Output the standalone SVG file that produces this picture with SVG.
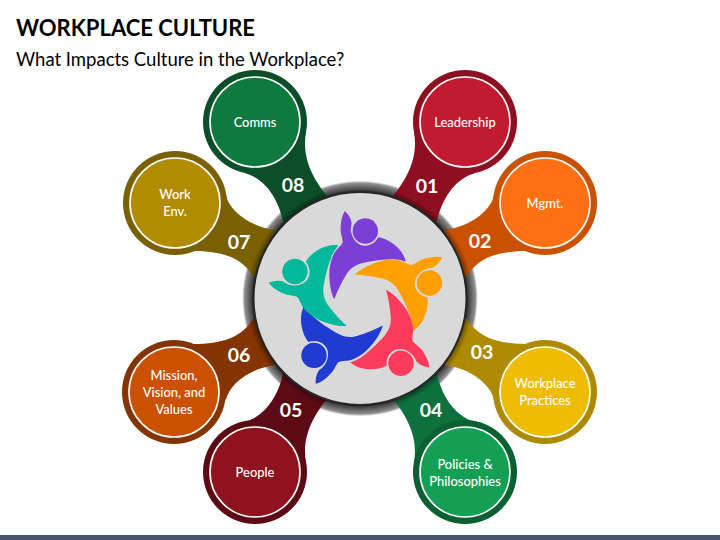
<svg xmlns="http://www.w3.org/2000/svg" width="720" height="540" viewBox="0 0 720 540">
<style>
text{font-family:"Lato","Carlito","Liberation Sans",sans-serif;text-anchor:middle}
.title{font-size:23.5px;font-weight:700;fill:#000;text-anchor:start}
.sub{font-size:18.5px;fill:#000;text-anchor:start}
.lbl{font-size:12.9px;fill:#fff;font-weight:500}
.num{font-size:19.5px;fill:#fff;font-weight:700}
.in{stroke:#fff;stroke-width:1.6}
</style>
<defs>
<radialGradient id="ring" gradientUnits="userSpaceOnUse" cx="360" cy="298.5" r="118">
<stop offset="0.9" stop-color="#333"/>
<stop offset="0.925" stop-color="#666"/>
<stop offset="0.96" stop-color="#777"/>
<stop offset="0.98" stop-color="#929292"/>
<stop offset="1" stop-color="#ccc" stop-opacity="0.1"/>
</radialGradient>
<radialGradient id="shade" gradientUnits="userSpaceOnUse" cx="360" cy="298.5" r="118">
<stop offset="0.9" stop-color="#000" stop-opacity="0.45"/>
<stop offset="0.96" stop-color="#000" stop-opacity="0"/>
</radialGradient>
<path id="neckA" d="M414,132C417,150 414,170 393,196L360,298L437,221C441,203 452,180 475,173Z"/>
<path id="neckB" d="M494,195C491,210 472,226 445,230L360,298L467,276C478,258 497,251 527,251Z"/>
<g id="person">
<path d="M345,211C348,214 351,218 351.7,223.3C350.5,228 350.5,231 351.7,234C353,239.5 358,245.7 365,245.7C370.5,245.7 375.5,242.5 378.3,237.3C386,238.5 393,243 398,248C402,252 405,257 405.7,261.7C400,259.5 396,259 391.7,259.3C385,259.5 379,260 373.3,261C366,262 361,263 356.7,265C352,267.5 349,270 346,275C342,282 337,291 334.3,299.3C331,294 329.5,283 329.3,276C329,268 331,258 335,251.7C338,248 342,245 342.7,241.7C342,236 340,232 340.7,226.7C341,221 342,215 345,211Z"/>
<circle cx="365.3" cy="231" r="12.7"/>
</g>
</defs>
<rect width="720" height="540" fill="#fff"/>
<text class="title" x="16" y="36" textLength="239" lengthAdjust="spacingAndGlyphs">WORKPLACE CULTURE</text>
<text class="sub" x="16" y="66">What Impacts Culture in the Workplace?</text>
<circle id="halo" cx="360" cy="298.5" r="118" fill="url(#ring)"/>
<g id="connectors">
<use href="#neckA" fill="#8e0f20"/>
<use href="#neckB" fill="#c85200"/>
<use href="#neckB" fill="#ae8a00" transform="matrix(1,0,0,-1,0,595)"/>
<use href="#neckA" fill="#0e703c" transform="matrix(1,0,0,-1,0,595)"/>
<use href="#neckA" fill="#5c0a14" transform="matrix(-1,0,0,-1,720,595)"/>
<use href="#neckB" fill="#843400" transform="matrix(-1,0,0,-1,720,595)"/>
<use href="#neckB" fill="#7a6000" transform="matrix(-1,0,0,1,720,0)"/>
<use href="#neckA" fill="#0b4e28" transform="matrix(-1,0,0,1,720,0)"/>
</g>
<circle id="neck-shade" cx="360" cy="298.5" r="118" fill="url(#shade)"/>
<g id="hub">
<circle cx="360" cy="298.5" r="106.5" fill="#d9d9d9" stroke="#262626" stroke-width="2"/>
<use href="#person" fill="#7b3fd6"/>
<use href="#person" fill="#ff9f00" transform="translate(0.8 -0.2) rotate(72 361 300.7)"/>
<use href="#person" fill="#ff3b5c" transform="translate(2.5 3.7) rotate(144 361 300.7)"/>
<use href="#person" fill="#1f3bd1" transform="translate(2.8 5.8) rotate(222 361 300.7)"/>
<use href="#person" fill="#00b89c" transform="translate(-3 0.9) rotate(292 361 300.7)"/>
</g>
<g id="node-01"><circle cx="465" cy="122" r="52" fill="#8e0f20"/><circle class="in" cx="465" cy="122" r="45" fill="#c21a2e"/><text class="lbl" x="465" y="126.500">Leadership</text><text class="num" x="427" y="193">01</text></g>
<g id="node-02"><circle cx="545" cy="203" r="52" fill="#c85200"/><circle class="in" cx="545" cy="203" r="45" fill="#ff7014"/><text class="lbl" x="545" y="207.500">Mgmt.</text><text class="num" x="480" y="248">02</text></g>
<g id="node-03"><circle cx="545" cy="392" r="52" fill="#ae8a00"/><circle class="in" cx="545" cy="392" r="45" fill="#eebc00"/><text class="lbl" x="545" y="388">Workplace</text><text class="lbl" x="545" y="405">Practices</text><text class="num" x="482" y="359">03</text></g>
<g id="node-04"><circle cx="465" cy="472" r="52" fill="#0a6030"/><circle class="in" cx="465" cy="472" r="45" fill="#13a055"/><text class="lbl" x="465" y="469">Policies &amp;</text><text class="lbl" x="465" y="486">Philosophies</text><text class="num" x="431" y="417">04</text></g>
<g id="node-05"><circle cx="255" cy="472" r="52" fill="#5c0a14"/><circle class="in" cx="255" cy="472" r="45" fill="#8f121f"/><text class="lbl" x="255" y="476.500">People</text><text class="num" x="291" y="417">05</text></g>
<g id="node-06"><circle cx="174" cy="392" r="52" fill="#843400"/><circle class="in" cx="174" cy="392" r="45" fill="#cb5000"/><text class="lbl" x="174" y="380">Mission,</text><text class="lbl" x="174" y="397">Vision, and</text><text class="lbl" x="174" y="414">Values</text><text class="num" x="239" y="362">06</text></g>
<g id="node-07"><circle cx="175" cy="203" r="52" fill="#7a6000"/><circle class="in" cx="175" cy="203" r="45" fill="#b28c00"/><text class="lbl" x="175" y="199">Work</text><text class="lbl" x="175" y="216">Env.</text><text class="num" x="239" y="249">07</text></g>
<g id="node-08"><circle cx="255" cy="122" r="52" fill="#0b4e28"/><circle class="in" cx="255" cy="122" r="45" fill="#0e7a40"/><text class="lbl" x="255" y="126.500">Comms</text><text class="num" x="293" y="192">08</text></g>
<rect id="footer" x="0" y="535" width="720" height="5" fill="#44546a"/>
</svg>
